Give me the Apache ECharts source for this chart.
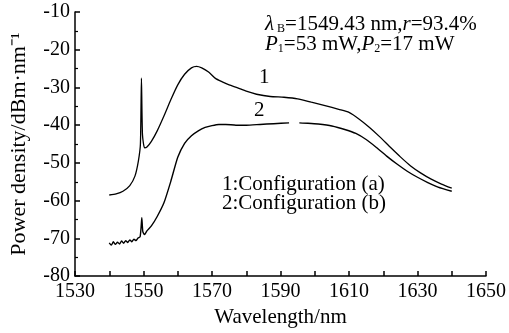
<!DOCTYPE html>
<html>
<head>
<meta charset="utf-8">
<script src="https://cdn.jsdelivr.net/npm/echarts@6/dist/echarts.min.js"></script>
<style>
  html, body { margin: 0; padding: 0; background: #fff; }
  #chart { width: 509px; height: 333px; }
</style>
</head>
<body>
<div id="chart"></div>
<script>
// curve 1: configuration (a)
const wl1 = [1540, 1542, 1544, 1546, 1547.5, 1548.5, 1549.1, 1549.4, 1549.7, 1550.3, 1551, 1552.3, 1554, 1556, 1558, 1560, 1562, 1564, 1565.5, 1567, 1569, 1571, 1573, 1575, 1577.5, 1580, 1583, 1587, 1591, 1595, 1599, 1603, 1607, 1610, 1613, 1616, 1619, 1622, 1625, 1628, 1631, 1634, 1637, 1640];
const p1 = [-58.5, -58.2, -57.5, -56.0, -53.5, -49.5, -45.0, -27.5, -42.5, -46.0, -45.8, -44.3, -41.5, -37.5, -33.2, -29.3, -26.5, -24.8, -24.4, -24.8, -25.9, -27.6, -28.5, -29.3, -30.1, -31.0, -31.8, -32.4, -32.6, -33.0, -33.9, -34.8, -35.8, -36.6, -38.4, -40.6, -43.1, -45.8, -48.4, -50.8, -52.7, -54.3, -55.6, -56.7];

// curve 2: configuration (b)  (null = break in the printed line)
const wl2 = [1540, 1540.6, 1541.2, 1541.8, 1542.4, 1543, 1543.6, 1544.2, 1544.8, 1545.4, 1546, 1546.6, 1547.2, 1547.8, 1548.4, 1549, 1549.3, 1549.5, 1549.8, 1550.3, 1551, 1552.3, 1554, 1556, 1558, 1560, 1562, 1564, 1566, 1568, 1570, 1572, 1574, 1577, 1580, 1584, 1588, 1592.5, 1594, 1595.5, 1598, 1601, 1605, 1609, 1612, 1615, 1618, 1621, 1624, 1627, 1630, 1633, 1636, 1640];
const p2 = [-71.2, -71.8, -70.9, -71.6, -71.0, -71.5, -70.7, -71.3, -70.6, -71.1, -70.4, -70.9, -70.2, -70.6, -69.9, -69.6, -67.0, -64.5, -68.2, -69.0, -68.0, -66.7, -64.2, -60.5, -54.8, -48.5, -44.8, -42.8, -41.5, -40.6, -40.1, -39.8, -39.8, -40.0, -40.0, -39.8, -39.6, -39.4, null, -39.4, -39.5, -39.7, -40.2, -41.2, -42.2, -43.8, -45.9, -48.2, -50.3, -52.2, -53.8, -55.2, -56.4, -57.5];

const xTicks = { min: 1530, max: 1650, step: 10, labelStep: 20 };
const yTicks = { min: -80, max: -10, step: 10 };

const serif = 'Liberation Serif, Times New Roman, serif';
const pairs = (xs, ys) => xs.map((x, i) => [x, ys[i]]);

const chart = echarts.init(document.getElementById('chart'));

const subRich = {
  i: { fontStyle: 'italic', fontFamily: serif, fontSize: 21 },
  s: { fontFamily: serif, fontSize: 12, verticalAlign: 'bottom', padding: [9, 0, 0, 0] }
};

const option = {
  animation: false,
  backgroundColor: '#fff',
  grid: { left: 73, right: 21, top: 12, bottom: 56 },
  xAxis: {
    type: 'value',
    min: xTicks.min, max: xTicks.max, interval: xTicks.step,
    name: 'Wavelength/nm',
    nameLocation: 'middle',
    nameGap: 28,
    nameTextStyle: { color: '#000', fontFamily: serif, fontSize: 21 },
    axisLine: { lineStyle: { color: '#000', width: 1.5 } },
    axisTick: { inside: true, length: 5, lineStyle: { color: '#000', width: 1.5 } },
    axisLabel: {
      color: '#000', fontFamily: serif, fontSize: 20, margin: 6,
      formatter: v => ((v - xTicks.min) % xTicks.labelStep === 0 ? String(v) : '')
    },
    splitLine: { show: false }
  },
  yAxis: {
    type: 'value',
    min: yTicks.min, max: yTicks.max, interval: yTicks.step,
    name: 'Power density/dBm·nm⁻¹',
    nameLocation: 'middle',
    nameGap: 45,
    nameTextStyle: { color: '#000', fontFamily: serif, fontSize: 22 },
    axisLine: { lineStyle: { color: '#000', width: 1.5 } },
    axisTick: { inside: true, length: 5, lineStyle: { color: '#000', width: 1.5 } },
    minorTick: { show: true, splitNumber: 2, length: 3, lineStyle: { color: '#000', width: 1.2 } },
    axisLabel: { color: '#000', fontFamily: serif, fontSize: 20, margin: 5 },
    splitLine: { show: false }
  },
  series: [
    {
      name: '1', type: 'line', data: pairs(wl1, p1),
      showSymbol: false, symbol: 'none', smooth: 0.2,
      lineStyle: { color: '#000', width: 1.3 }
    },
    {
      name: '2', type: 'line', data: pairs(wl2, p2),
      showSymbol: false, symbol: 'none', smooth: 0.2,
      lineStyle: { color: '#000', width: 1.4 }
    }
  ],
  graphic: [
    {
      type: 'text', x: 265, y: 24,
      style: {
        text: '{i|λ}{s| B}=1549.43 nm,{i|r}=93.4%',
        fill: '#000', font: '21px ' + serif, verticalAlign: 'middle',
        rich: subRich
      }
    },
    {
      type: 'text', x: 265, y: 44,
      style: {
        text: '{i|P}{s|1}=53 mW,{i|P}{s|2}=17 mW',
        fill: '#000', font: '21px ' + serif, verticalAlign: 'middle',
        rich: subRich
      }
    },
    { type: 'text', x: 259, y: 77, style: { text: '1', fill: '#000', font: '21px ' + serif, verticalAlign: 'middle' } },
    { type: 'text', x: 254, y: 110, style: { text: '2', fill: '#000', font: '21px ' + serif, verticalAlign: 'middle' } },
    { type: 'text', x: 222, y: 184, style: { text: '1:Configuration (a)', fill: '#000', font: '21px ' + serif, verticalAlign: 'middle' } },
    { type: 'text', x: 222, y: 203, style: { text: '2:Configuration (b)', fill: '#000', font: '21px ' + serif, verticalAlign: 'middle' } }
  ]
};

chart.setOption(option);
</script>
</body>
</html>
